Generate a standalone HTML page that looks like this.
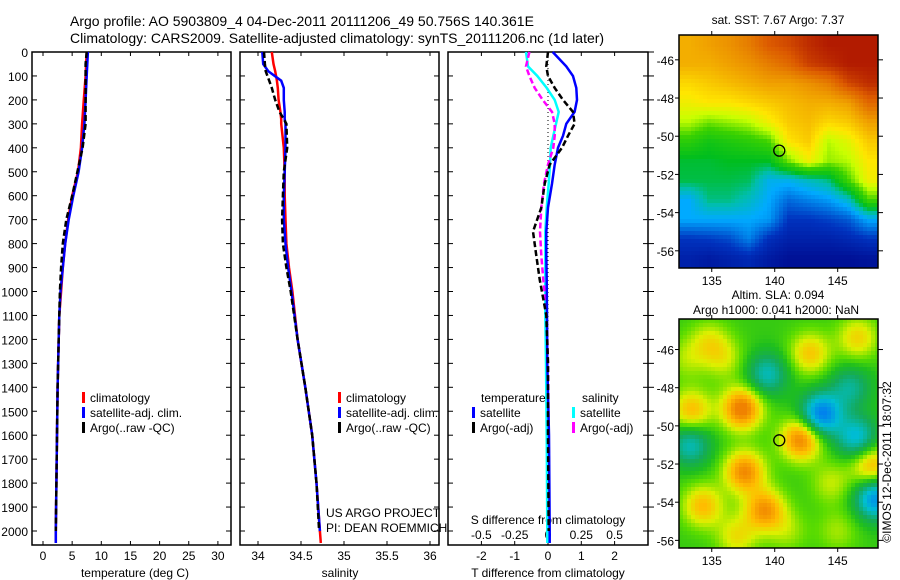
<!DOCTYPE html>
<html><head><meta charset="utf-8"><style>
body{margin:0;background:#fff;}
svg{display:block;font-family:"Liberation Sans",sans-serif;}
</style></head><body>
<svg id="c" width="900" height="580" viewBox="0 0 900 580">
<text x="70" y="26" font-size="14">Argo profile: AO 5903809_4 04-Dec-2011 20111206_49 50.756S 140.361E</text>
<text x="70" y="43" font-size="14">Climatology: CARS2009. Satellite-adjusted climatology: synTS_20111206.nc (1d later)</text>
<g id="g"></g>
</svg>
<script>
// ---- data ----
const tDepths=[0,50,100,200,300,400,500,600,700,800,900,1000,1100,1200,1400,1600,1800,2000,2050];
const tClim=[7.5,7.4,7.3,7.0,6.7,6.5,6.0,5.0,4.3,3.8,3.4,3.1,2.8,2.7,2.5,2.4,2.3,2.2,2.2];
const tSat=[7.7,7.6,7.5,7.3,7.1,6.7,6.1,5.2,4.4,3.8,3.4,3.0,2.8,2.7,2.5,2.4,2.3,2.2,2.2];
const tArgo=[7.5,7.3,7.3,7.3,7.3,6.8,5.9,5.0,4.0,3.4,3.1,2.9,2.8,2.7,2.5,2.4,2.3,2.2];
const sDepths=[0,50,80,120,150,200,250,280,300,400,500,600,700,800,900,1000,1200,1400,1600,1800,2000,2050];
const sClim=[34.16,34.18,34.2,34.22,34.23,34.24,34.26,34.27,34.27,34.3,34.31,34.31,34.32,34.33,34.36,34.4,34.46,34.55,34.63,34.68,34.72,34.73];
const sSat=[34.05,34.06,34.12,34.27,34.3,34.3,34.31,34.31,34.32,34.32,34.31,34.3,34.3,34.32,34.35,34.39,34.46,34.55,34.63,34.68,34.72];
const sArgo=[34.07,34.08,34.09,34.13,34.16,34.2,34.25,34.3,34.33,34.34,34.3,34.29,34.28,34.29,34.33,34.38,34.46,34.55,34.63,34.68,34.71];
const dDepths=[0,60,100,150,200,250,300,350,400,470,550,650,750,850,950,1100,1300,1600,2000,2050];
const dTSat=[0.14,0.55,0.75,0.85,0.87,0.8,0.55,0.45,0.3,0.2,0.12,0,-0.05,-0.05,-0.04,-0.03,-0.02,0.03,0.05,0.05];
const dTArgo=[0,-0.05,0,0.2,0.45,0.75,0.8,0.6,0.42,0.05,-0.1,-0.2,-0.45,-0.35,-0.25,-0.05,0,0,0.02];
const dSSat=[-0.165,-0.15,-0.08,-0.01,0.05,0.08,0.06,0.04,0.02,0.015,0.005,-0.01,-0.02,-0.02,-0.02,-0.02,-0.015,-0.01,-0.005,-0.005];
const dSArgo=[-0.14,-0.165,-0.14,-0.1,-0.04,0.03,0.05,0.05,0.04,0,-0.03,-0.05,-0.06,-0.05,-0.035,-0.01,0,0.005,0.01];
const depthTicks=[0,100,200,300,400,500,600,700,800,900,1000,1100,1200,1300,1400,1500,1600,1700,1800,1900,2000];
const tTicks=[0,5,10,15,20,25,30];
const sTicks=[34,34.5,35,35.5,36];
const dTTicks=[-2,-1,0,1,2];
const dSTicks=[-0.5,-0.25,0,0.25,0.5];
const dSTickLabels=["-0.5","-0.25","0","0.25","0.5"];
const sstRows=[
[.78,.8,.82,.85,.9,.92,.95,.97,.97,.97],
[.78,.78,.8,.82,.85,.88,.93,.95,.97,.97],
[.72,.74,.76,.78,.8,.8,.82,.85,.92,.95],
[.68,.7,.7,.72,.74,.76,.78,.78,.8,.88],
[.62,.58,.6,.62,.68,.74,.76,.72,.74,.8],
[.52,.48,.5,.52,.55,.7,.74,.62,.66,.74],
[.44,.44,.45,.45,.45,.58,.68,.6,.62,.7],
[.43,.43,.43,.42,.32,.32,.36,.4,.55,.68],
[.3,.4,.4,.36,.3,.22,.25,.28,.35,.55],
[.3,.3,.3,.3,.28,.15,.15,.17,.2,.3],
[.15,.16,.18,.25,.14,.1,.1,.1,.12,.15],
[.1,.08,.1,.12,.08,.05,.05,.05,.05,.06]];
const slaLon=[137.4,142.1,137.6,139.2,133.4,134.3,142.8,147.7,137,146.6,134.8,143.7,146.5,139.4,133.3,148,146,136,144.5,141,145,133];
const slaLat=[-49.1,-50.7,-52.4,-54.4,-49.2,-54.2,-46.2,-52.1,-55.8,-45.4,-45.6,-49.4,-50.6,-47.3,-51,-53.8,-48,-46.5,-53,-55.5,-55.5,-46.5];
const slaAmp=[0.8,0.75,0.7,0.65,0.5,0.5,0.45,0.55,0.35,0.4,0.3,-0.9,-0.6,-0.5,-0.5,-0.8,-0.4,0.25,0.25,0.2,0.2,0.2];
const argoLon=140.361, argoLat=-50.756;

const NS="http://www.w3.org/2000/svg";
const G=document.getElementById('g');
function mk(tag,attrs,parent){const e=document.createElementNS(NS,tag);for(const k in attrs)e.setAttribute(k,attrs[k]);(parent||G).appendChild(e);return e;}
function txt(x,y,s,size,anchor,parent){const t=mk('text',{x:x,y:y,'font-size':size||12,'text-anchor':anchor||'start'},parent);t.textContent=s;return t;}
const yD=d=>52+d*0.2395;
const xT=v=>43+v*5.83;
const xS=v=>258+(v-34)*86;
const xDT=v=>548+v*33.3;
const xDS=v=>548+v*133.2;

function panel(x0,x1,name){
  const g=mk('g',{});
  
  
  mk('rect',{x:x0,y:52,width:x1-x0,height:493,fill:'none',stroke:'#000','stroke-width':1.5},g);
  depthTicks.forEach(d=>{mk('line',{x1:x0,x2:x0+5,y1:yD(d),y2:yD(d),stroke:'#000'},g);mk('line',{x1:x1,x2:x1-5,y1:yD(d),y2:yD(d),stroke:'#000'},g);});
  return g;
}
function line(xs,ds,xf,color,dash,name,parent){
  const n=Math.min(xs.length,ds.length);let p=[];
  for(let i=0;i<n;i++)p.push(xf(xs[i]).toFixed(1)+','+yD(ds[i]).toFixed(1));
  const l=mk('polyline',{points:p.join(' '),fill:'none',stroke:color,'stroke-width':2.5},parent);
  if(dash)l.setAttribute('stroke-dasharray',dash);
  
  
}
function legend(x,y,items,parent){
  items.forEach((it,i)=>{mk('rect',{x:x,y:y+i*15-10,width:3,height:11,fill:it[1]},parent);txt(x+8,y+i*15,it[0],12,'start',parent);});
}
// panel 1
const p1=panel(32,231,'temperature-panel');
depthTicks.forEach(d=>txt(28,yD(d)+5,String(d),12,'end',p1));
tTicks.forEach(v=>{mk('line',{x1:xT(v),x2:xT(v),y1:52,y2:56,stroke:'#000'},p1);mk('line',{x1:xT(v),x2:xT(v),y1:545,y2:541,stroke:'#000'},p1);txt(xT(v),560,String(v),12,'middle',p1);});
txt(135,577,'temperature (deg C)',12,'middle',p1);
line(tClim,tDepths,xT,'#f00',null,'temp-climatology-line',p1);
line(tSat,tDepths,xT,'#00f',null,'temp-satellite-line',p1);
line(tArgo,tDepths,xT,'#000','6,3','temp-argo-line',p1);
legend(82,402,[['climatology','#f00'],['satellite-adj. clim.','#00f'],['Argo(..raw -QC)','#000']],p1);
// panel 2
const p2=panel(240,439,'salinity-panel');
sTicks.forEach(v=>{mk('line',{x1:xS(v),x2:xS(v),y1:52,y2:56,stroke:'#000'},p2);mk('line',{x1:xS(v),x2:xS(v),y1:545,y2:541,stroke:'#000'},p2);txt(xS(v),560,String(v),12,'middle',p2);});
txt(340,577,'salinity',12,'middle',p2);
line(sClim,sDepths,xS,'#f00',null,'sal-climatology-line',p2);
line(sSat,sDepths,xS,'#00f',null,'sal-satellite-line',p2);
line(sArgo,sDepths,xS,'#000','6,3','sal-argo-line',p2);
legend(338,402,[['climatology','#f00'],['satellite-adj. clim.','#00f'],['Argo(..raw -QC)','#000']],p2);
txt(326,517,'US ARGO PROJECT',12,'start',p2);
txt(326,532,'PI: DEAN ROEMMICH',12,'start',p2);
// panel 3
const p3=panel(448,648,'difference-panel');
depthTicks.forEach(d=>mk('line',{x1:648,x2:654,y1:yD(d),y2:yD(d),stroke:'#000'},p3));
mk('line',{x1:548,x2:548,y1:52,y2:545,stroke:'#000','stroke-dasharray':'1,3'},p3);
dTTicks.forEach(v=>{mk('line',{x1:xDT(v),x2:xDT(v),y1:52,y2:56,stroke:'#000'},p3);mk('line',{x1:xDT(v),x2:xDT(v),y1:545,y2:541,stroke:'#000'},p3);txt(xDT(v),560,String(v),12,'middle',p3);});
dSTicks.forEach((v,i)=>txt(xDS(v),539,dSTickLabels[i],12,'middle',p3));
txt(548,524,'S difference from climatology',12,'middle',p3);
txt(548,577,'T difference from climatology',12,'middle',p3);
line(dSSat,dDepths,xDS,'#0ff',null,'sdiff-satellite-line',p3);
line(dSArgo,dDepths,xDS,'#f0f','6,3','sdiff-argo-line',p3);
line(dTSat,dDepths,xDT,'#00f',null,'tdiff-satellite-line',p3);
line(dTArgo,dDepths,xDT,'#000','6,3','tdiff-argo-line',p3);
txt(481,402,'temperature',12,'start',p3);txt(582,402,'salinity',12,'start',p3);
legend(472,417,[['satellite','#00f'],['Argo(-adj)','#000']],p3);
legend(572,417,[['satellite','#0ff'],['Argo(-adj)','#f0f']],p3);

function lerpStops(stops,v){
  if(v<=stops[0][0])return stops[0][1];
  for(let i=1;i<stops.length;i++){if(v<=stops[i][0]){const a=stops[i-1],b=stops[i],t=(v-a[0])/(b[0]-a[0]);
    return [0,1,2].map(k=>Math.round(a[1][k]+(b[1][k]-a[1][k])*t));}}
  return stops[stops.length-1][1];
}
const sstStops=[[0,[0,0,130]],[0.15,[0,50,190]],[0.3,[0,170,255]],[0.38,[0,190,170]],[0.45,[0,190,30]],[0.55,[60,210,0]],[0.63,[200,255,0]],[0.7,[255,230,0]],[0.8,[240,160,0]],[0.9,[220,90,0]],[1,[160,0,0]]];
const slaStops=[[-1,[0,90,255]],[-0.5,[0,190,210]],[-0.2,[20,170,90]],[0,[30,190,30]],[0.15,[90,220,0]],[0.35,[220,240,0]],[0.55,[255,190,0]],[0.8,[240,130,0]]];
function fix(s){return 'rgb('+s.join(',')+')';}

function mapFrame(x0,y0,w,h,lon0,lon1,lat0,lat1,name){
  const g=mk('g',{});
  
  
  const X=lon=>x0+(lon-lon0)/(lon1-lon0)*w, Y=lat=>y0+(lat0-lat)/(lat0-lat1)*h;
  return {g,X,Y};
}
(function(){
  const x0=679,y0=35,w=199,h=233,lon0=132.4,lon1=148.2,lat0=-44.7,lat1=-56.9;
  const m=mapFrame(x0,y0,w,h,lon0,lon1,lat0,lat1,'sst-map');
  const R=sstRows.length,C=sstRows[0].length,cell=4;
  for(let py=0;py<h;py+=cell)for(let px=0;px<w;px+=cell){
    const fy=Math.min(R-1,Math.max(0,(py+2)/h*R-0.5)),fx=Math.min(C-1,Math.max(0,(px+2)/w*C-0.5));
    const r0=Math.floor(fy),c0=Math.floor(fx),r1=Math.min(R-1,r0+1),c1=Math.min(C-1,c0+1),ty=fy-r0,tx=fx-c0;
    const v=sstRows[r0][c0]*(1-tx)*(1-ty)+sstRows[r0][c1]*tx*(1-ty)+sstRows[r1][c0]*(1-tx)*ty+sstRows[r1][c1]*tx*ty;
    mk('rect',{x:x0+px,y:y0+py,width:Math.min(cell,w-px),height:Math.min(cell,h-py),fill:fix(lerpStops(sstStops,v))},m.g);
  }
  finishMap(m,x0,y0,w,h,[-46,-48,-50,-52,-54,-56],'sst');
  txt(778,24,'sat. SST: 7.67 Argo: 7.37',12,'middle',m.g);
})();
(function(){
  const x0=679,y0=319,w=199,h=229,lon0=132.4,lon1=148.2,lat0=-44.4,lat1=-56.4;
  const m=mapFrame(x0,y0,w,h,lon0,lon1,lat0,lat1,'sla-map');
  const cell=4;
  for(let py=0;py<h;py+=cell)for(let px=0;px<w;px+=cell){
    const lon=lon0+(px+2)/w*(lon1-lon0),lat=lat0-(py+2)/h*(lat0-lat1);
    let v=0.06;
    for(let i=0;i<slaLon.length;i++){const dx=(lon-slaLon[i])/1.6,dy=(lat-slaLat[i])/1.1;v+=slaAmp[i]*Math.exp(-(dx*dx+dy*dy));}
    mk('rect',{x:x0+px,y:y0+py,width:Math.min(cell,w-px),height:Math.min(cell,h-py),fill:fix(lerpStops(slaStops,v))},m.g);
  }
  finishMap(m,x0,y0,w,h,[-46,-48,-50,-52,-54,-56],'sla');
  txt(778,299,'Altim. SLA: 0.094',12,'middle',m.g);
  txt(776,314,'Argo h1000: 0.041 h2000: NaN',12,'middle',m.g);
})();
function finishMap(m,x0,y0,w,h,latTicks,key){
  mk('rect',{x:x0,y:y0,width:w,height:h,fill:'none',stroke:'#000','stroke-width':1.5},m.g);
  latTicks.forEach(l=>{const y=m.Y(l);mk('line',{x1:x0+w,x2:x0+w+5,y1:y,y2:y,stroke:'#000'},m.g);mk('line',{x1:x0-4,x2:x0,y1:y,y2:y,stroke:'#000'},m.g);txt(x0-5,y+5,String(l),12,'end',m.g);});
  [135,140,145].forEach(l=>{const x=m.X(l);mk('line',{x1:x,x2:x,y1:y0-4,y2:y0,stroke:'#000'},m.g);mk('line',{x1:x,x2:x,y1:y0+h,y2:y0+h+4,stroke:'#000'},m.g);txt(x,y0+h+17,String(l),12,'middle',m.g);});
  const c=mk('circle',{cx:m.X(argoLon),cy:m.Y(argoLat),r:5.5,fill:'none',stroke:'#000','stroke-width':1.3},m.g);
  
  
}
const cr=txt(0,0,'©IMOS 12-Dec-2011 18:07:32',12,'middle');
cr.setAttribute('transform','translate(891,462) rotate(-90)');


</script>
</body></html>
